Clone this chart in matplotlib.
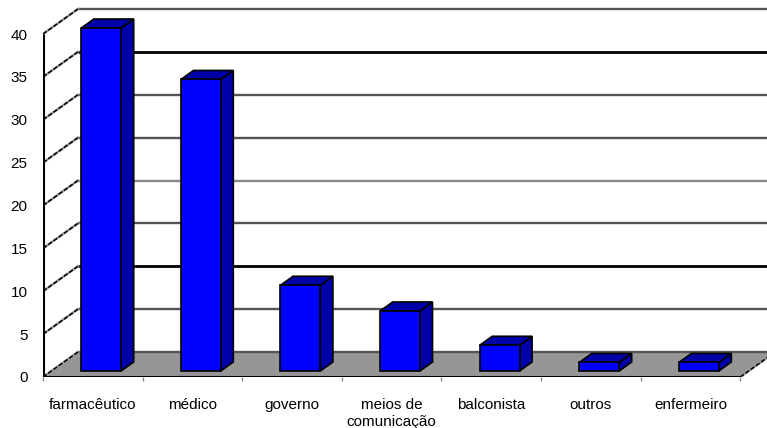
import numpy as np
import matplotlib
matplotlib.use('Agg')
import matplotlib.pyplot as plt
from matplotlib.patches import Polygon

# Who is the source of information on medicines (answers, %)
categorias = ["farmacêutico", "médico", "governo", "meios de\ncomunicação",
              "balconista", "outros", "enfermeiro"]
valores = [40, 34, 10, 7, 3, 1, 1]
niveis = [0, 5, 10, 15, 20, 25, 30, 35, 40]

# oblique "3D" look: depth offset in data units
DX, DY = 0.351, 2.915
D0, D1 = 0.24, 0.60       # bar depth range (fraction of wall depth)
LARG = 0.40               # bar width in category units

AZUL = '#0000ff'
AZUL_ESC = '#0000a8'
PISO = '#969696'
cores_grade = {0: '#555555', 5: '#555555', 10: 'black', 15: '#555555',
               20: '#888888', 25: '#555555', 30: '#555555', 35: 'black',
               40: '#555555'}

plt.rcParams['font.family'] = ['Liberation Sans', 'DejaVu Sans']

fig = plt.figure(figsize=(7.67, 4.28), dpi=100)
ax = fig.add_axes([43 / 767, 51 / 428, 724 / 767, 377 / 428])
ax.set_xlim(0, 724 / 99.6)
ax.set_ylim(0, 377 / 8.575)
for s in ax.spines.values():
    s.set_visible(False)

n = len(categorias)

# back wall gridlines
for v in niveis[1:]:
    ax.plot([DX, n + DX], [v + DY, v + DY], color=cores_grade[v],
            lw=2.0 if cores_grade[v] == 'black' else 1.7, zorder=1,
            solid_capstyle='butt')

# floor
ax.add_patch(Polygon([(0, 0), (n, 0), (n + DX, DY), (DX, DY)],
                     closed=True, facecolor=PISO, edgecolor='none', zorder=2))
ax.plot([DX, n + DX], [DY, DY], color='#555555', lw=1.7, zorder=2.1)

# left wall lines (dashed look)
for v in niveis:
    ax.plot([0, DX], [v, v + DY], color='#a0a0a0', lw=1.8, zorder=3)
    ax.plot([0, DX], [v, v + DY], color='black', lw=1.1,
            dashes=(3, 1.2), zorder=3.1)
ax.plot([n, n + DX], [0, DY], color='#a0a0a0', lw=1.8, zorder=3)
ax.plot([n, n + DX], [0, DY], color='black', lw=1.1, dashes=(3, 1.2), zorder=3.1)

# bars
for i, v in enumerate(valores):
    x0 = i + 0.5 - LARG / 2 + D0 * DX
    x1 = x0 + LARG
    y0 = D0 * DY
    ox, oy = (D1 - D0) * DX, (D1 - D0) * DY
    lado = [(x1, y0), (x1 + ox, y0 + oy), (x1 + ox, v + y0 + oy), (x1, v + y0)]
    topo = [(x0, v + y0), (x1, v + y0), (x1 + ox, v + y0 + oy), (x0 + ox, v + y0 + oy)]
    frente = [(x0, y0), (x1, y0), (x1, v + y0), (x0, v + y0)]
    for pts, cor in [(lado, AZUL_ESC), (topo, AZUL_ESC), (frente, AZUL)]:
        ax.add_patch(Polygon(pts, closed=True, facecolor=cor, edgecolor='black',
                             lw=1.2, joinstyle='miter', zorder=4))

# front edges
ax.plot([0, n], [0, 0], color='black', lw=2.2, zorder=5, solid_capstyle='butt')
ax.plot([0, 0], [0, 40], color='black', lw=2.2, zorder=5, solid_capstyle='butt')

ax.set_yticks(niveis)
ax.set_yticklabels([str(v) for v in niveis], fontsize=11)
ax.tick_params(axis='y', length=0, pad=11)

ax.set_xticks(np.arange(n) + 0.5)
ax.set_xticklabels(categorias, fontsize=11, linespacing=1.3)
ax.set_xticks(np.arange(n + 1), minor=True)
ax.tick_params(axis='x', which='major', length=0, pad=15)
ax.tick_params(axis='x', which='minor', length=3, color='#888888', width=1)

fig.savefig('out.png', dpi=100)
